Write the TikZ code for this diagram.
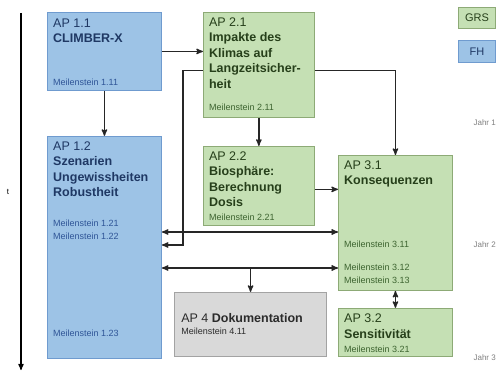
\documentclass[tikz,border=0pt]{standalone}
\usepackage{fontspec}
\setmainfont{Liberation Sans}
\usepackage{xcolor}
\usepackage{tikz}
\usetikzlibrary{positioning, arrows}
\definecolor{fhfill}{HTML}{9DC3E6}
\definecolor{fhline}{HTML}{6F9BCF}
\definecolor{fhink}{HTML}{1F3864}
\definecolor{fhms}{HTML}{2F5597}
\definecolor{grsfill}{HTML}{C5E0B4}
\definecolor{grsline}{HTML}{8DAA76}
\definecolor{grsink}{HTML}{263F1A}
\definecolor{grsms}{HTML}{3D6430}
\definecolor{docfill}{HTML}{D9D9D9}
\definecolor{docline}{HTML}{A3A3A3}
\definecolor{docink}{HTML}{2B2B2B}
\definecolor{linkcol}{HTML}{262626}
\tikzset{>=stealth',
	box/.style={draw, line width=0.9pt, inner sep=0pt, anchor=north west},
	fhbox/.style={box, fill=fhfill, draw=fhline},
	grsbox/.style={box, fill=grsfill, draw=grsline},
	docbox/.style={box, fill=docfill, draw=docline},
	title/.style={anchor=north west, align=left, inner sep=0pt, font=\fontsize{12.5}{15.5}\selectfont},
	milestone/.style={anchor=base west, inner sep=0pt, font=\fontsize{9}{11}\selectfont},
	year/.style={anchor=east, inner sep=0pt, text=gray, font=\fontsize{8}{10}\selectfont},
	link/.style={line width=1.3pt, draw=linkcol}
}

\begin{document}
\begin{tikzpicture}[x=1pt, y=-1pt]
	\useasboundingbox (0,0) rectangle (498,374);
	% boxes
	\node[fhbox, minimum width=114pt, minimum height=78pt] (ap11) at (47,12) {};
	\node[fhbox, minimum width=114pt, minimum height=222pt, below=45pt of ap11] (ap12) {};
	\node[grsbox, minimum width=111pt, minimum height=105pt, right=41pt of ap11.north east, anchor=north west] (ap21) {};
	\node[grsbox, minimum width=111pt, minimum height=79pt, below=28pt of ap21] (ap22) {};
	\node[grsbox, minimum width=114pt, minimum height=135pt] (ap31) at (338,155) {};
	\node[grsbox, minimum width=114pt, minimum height=48pt, below=17pt of ap31] (ap32) {};
	\node[docbox, minimum width=152pt, minimum height=64pt, left=11pt of ap32.south west, anchor=south east] (ap4) {};
	% legend
	\node[grsbox, minimum width=37pt, minimum height=21pt, text=grsink, font=\fontsize{11}{13}\selectfont] (keygrs) at (458,7) {GRS};
	\node[fhbox, minimum width=37pt, minimum height=22pt, text=fhink, font=\fontsize{11}{13}\selectfont] (keyfh) at (458,40) {FH};
	% texts
	\node[title, text=fhink] (t11) at ([shift={(6,6.5)}]ap11.north west) {AP 1.1\\\textbf{CLIMBER-X}};
	\node[milestone, text=fhms] (m111) at ([shift={(6,73.5)}]ap11.north west) {Meilenstein 1.11};
	\node[title, text=fhink] (t12) at ([shift={(6,5.5)}]ap12.north west) {AP 1.2\\\textbf{Szenarien}\\\textbf{Ungewissheiten}\\\textbf{Robustheit}};
	\node[milestone, text=fhms] (m121) at ([shift={(6,90.5)}]ap12.north west) {Meilenstein 1.21};
	\node[milestone, text=fhms] (m122) at ([shift={(6,103.5)}]ap12.north west) {Meilenstein 1.22};
	\node[milestone, text=fhms] (m123) at ([shift={(6,200.5)}]ap12.north west) {Meilenstein 1.23};
	\node[title, text=grsink] (t21) at ([shift={(6,5.5)}]ap21.north west) {AP 2.1\\\textbf{Impakte des}\\\textbf{Klimas auf}\\\textbf{Langzeitsicher-}\\\textbf{heit}};
	\node[milestone, text=grsms] (m211) at ([shift={(6,98.5)}]ap21.north west) {Meilenstein 2.11};
	\node[title, text=grsink] (t22) at ([shift={(6,5.5)}]ap22.north west) {AP 2.2\\\textbf{Biosphäre:}\\\textbf{Berechnung}\\\textbf{Dosis}};
	\node[milestone, text=grsms] (m221) at ([shift={(6,74.5)}]ap22.north west) {Meilenstein 2.21};
	\node[title, text=grsink] (t31) at ([shift={(6,5.5)}]ap31.north west) {AP 3.1\\\textbf{Konsequenzen}};
	\node[milestone, text=grsms] (m311) at ([shift={(6,92.5)}]ap31.north west) {Meilenstein 3.11};
	\node[milestone, text=grsms] (m312) at ([shift={(6,115.5)}]ap31.north west) {Meilenstein 3.12};
	\node[milestone, text=grsms] (m313) at ([shift={(6,128.5)}]ap31.north west) {Meilenstein 3.13};
	\node[title, text=grsink] (t32) at ([shift={(6,6)}]ap32.north west) {AP 3.2\\\textbf{Sensitivität}};
	\node[milestone, text=grsms] (m321) at ([shift={(6,44.5)}]ap32.north west) {Meilenstein 3.21};
	\node[title, text=docink] (t4) at ([shift={(7,21.5)}]ap4.north west) {AP 4 \textbf{Dokumentation}};
	\node[milestone, text=docink] (m411) at ([shift={(7,42.5)}]ap4.north west) {Meilenstein 4.11};
	% time axis
	\coordinate (tstart) at (21,13);
	\coordinate (tend) at (21,370);
	\draw[line width=1.2pt, ->] (tstart) -- (tend);
	\node[inner sep=0pt, font=\fontsize{8}{10}\selectfont] (tlabel) at (8,192) {t};
	\node[year] (jahr1) at (496,123) {Jahr 1};
	\node[year] (jahr2) at (496,245) {Jahr 2};
	\node[year] (jahr3) at (496,358) {Jahr 3};
	% connectors
	\coordinate (row1) at (0,232);
	\coordinate (row2) at (0,245);
	\coordinate (row3) at (0,268);
	\draw[link]
		(ap11) edge[->] (ap12)
		(ap21) edge[->] (ap22)
		(ap31) edge[<->] (ap32);
	\draw[link, ->] (ap11.east) -- (ap11.east -| ap21.west);
	\draw[link, ->] ([shift={(0,5.5)}]ap21.east) -| (ap31.north);
	\draw[link, ->] ([shift={(0,3.5)}]ap22.east) coordinate (c22) -- (c22 -| ap31.west);
	\draw[link, ->] ([shift={(0,5.5)}]ap21.west) -- ++(-20,0) |- (ap12.east |- row2);
	\draw[link, <->] (ap12.east |- row1) -- (ap31.west |- row1);
	\draw[link, <->] (ap12.east |- row3) -- (ap31.west |- row3);
	\draw[link, ->] (ap4.north |- row3) -- (ap4.north);
\end{tikzpicture}
\end{document}
